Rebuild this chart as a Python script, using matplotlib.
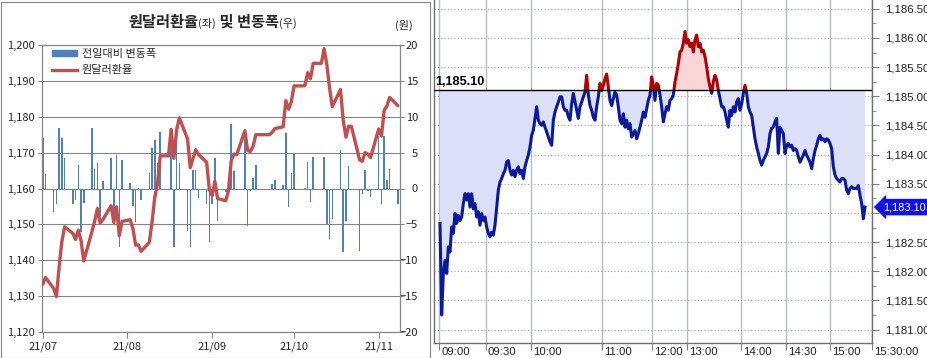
import numpy as np
import pandas as pd
import matplotlib
matplotlib.use('Agg')
import matplotlib.pyplot as plt
from matplotlib.patches import Rectangle
from matplotlib.lines import Line2D
from matplotlib.ticker import FuncFormatter, MultipleLocator

plt.rcParams['font.family'] = ['Noto Sans CJK KR', 'DejaVu Sans']

# ---- left panel: daily USD/KRW close and day-on-day change ----
days = pd.bdate_range('2021-07-01', '2021-11-08')
usdkrw = [
    1133.3, 1135.2, 1132.1, 1129.9, 1138.4, 1145.3, 1149.3, 1147.5, 1145.8, 1148.4, 1145.5,
    1139.8, 1148.0, 1150.9, 1154.4, 1150.4, 1151.3, 1155.2, 1150.6, 1154.9, 1146.9, 1150.8,
    1151.3, 1148.8, 1144.2, 1144.3, 1142.5, 1145.0, 1150.6, 1157.6, 1161.2, 1169.1, 1169.1,
    1176.5, 1168.4, 1176.3, 1179.7, 1173.8, 1165.8, 1168.4, 1170.8, 1169.5, 1167.3, 1159.6,
    1158.0, 1162.0, 1157.2, 1156.6, 1159.5, 1167.8, 1169.6, 1169.4, 1176.1, 1170.6, 1170.3,
    1171.8, 1175.0, 1175.0, 1175.0, 1175.0, 1175.7, 1176.7, 1177.2, 1184.5, 1182.1, 1184.2,
    1188.6, 1188.6, 1188.7, 1192.3, 1190.6, 1194.9, 1194.9, 1199.0, 1194.5, 1188.0, 1182.8,
    1187.6, 1179.0, 1174.3, 1177.4, 1177.3, 1168.0, 1167.6, 1170.0, 1169.6, 1168.6,
    1176.6, 1174.6, 1181.8, 1183.0, 1185.4, 1183.1,
]
chg = [
    7.1, 2.0, -3.3, -2.1, 8.5, 7.0, 4.2, -2.1, -1.6, 3.3, -6.0,
    -2.0, 8.4, 2.7, 3.6, -3.8, 1.0, 4.3, -5.0, 4.7, -8.1, 4.0,
    0.7, -2.5, -4.7, 0.1, -1.6, 2.2, 5.6, 6.7, 3.6, 7.9, 0.0,
    8.0, -8.2, 7.8, 3.5, -5.9, -8.1, 2.6, 2.6, -1.3, -2.1, -7.5,
    -2.2, 4.3, -4.5, -0.5, 1.4, 9.0, 2.5, -0.2, 6.9, -5.2, -0.3,
    1.4, 3.3, 0.0, 0.0, 0.0, 0.6, 1.2, 0.5, 7.7, -2.6, 2.2,
    4.8, 0.0, 0.1, 3.7, -1.9, 4.4, 0.0, 4.4, -5.0, -7.0, -4.3,
    5.3, -8.9, -4.5, 3.1, -0.2, -8.7, -0.8, 2.6, -0.3, -1.2,
    7.3, -2.2, 7.3, 1.2, 2.7, -2.1,
]
month_ticks = pd.to_datetime(['2021-07-01', '2021-08-01', '2021-09-01', '2021-10-01', '2021-11-01'])
month_labels = ['21/07', '21/08', '21/09', '21/10', '21/11']

# ---- right panel: intraday ticks (sampled), prev close, last ----
tick_rate = [
    1182.82, 1181.25, 1181.96, 1182.19, 1181.96, 1182.42, 1182.33, 1182.76, 1182.65, 1182.99,
    1182.82, 1182.96, 1182.87, 1182.93, 1183.16, 1183.33, 1183.22, 1183.33, 1183.10, 1183.33,
    1183.07, 1183.16, 1182.93, 1183.02, 1182.79, 1182.99, 1182.87, 1182.93, 1182.76, 1182.65,
    1182.59, 1182.67, 1182.62, 1182.79, 1183.10, 1183.39, 1183.53, 1183.59, 1183.67, 1183.73,
    1183.87, 1183.90, 1183.73, 1183.65, 1183.73, 1183.62, 1183.73, 1183.79, 1183.67, 1183.73,
    1183.59, 1183.79, 1183.90, 1183.99, 1184.13, 1184.33, 1184.42, 1184.62, 1184.82, 1184.59,
    1184.53, 1184.50, 1184.56, 1184.47, 1184.39, 1184.30, 1184.22, 1184.16, 1184.59, 1184.73,
    1184.82, 1184.90, 1184.99, 1184.99, 1184.82, 1184.76, 1184.76, 1184.65, 1184.59, 1184.87,
    1185.05, 1184.90, 1184.76, 1184.62, 1184.82, 1184.90, 1184.99, 1185.07,
    1185.36, 1185.02, 1184.84, 1184.76, 1184.64, 1184.59, 1184.82, 1184.99, 1185.22, 1185.10,
    1185.19, 1185.30, 1185.38, 1185.16, 1184.93, 1184.84, 1184.96, 1185.07, 1185.02, 1184.82,
    1184.59, 1184.53, 1184.70, 1184.47, 1184.59, 1184.44, 1184.53, 1184.30, 1184.36, 1184.41,
    1184.27, 1184.36, 1184.47, 1184.59, 1184.73, 1184.64, 1184.79, 1184.93, 1185.02, 1185.33,
    1185.19, 1184.93, 1185.22, 1185.19, 1185.02, 1184.82, 1184.56, 1184.70, 1184.82, 1184.76,
    1184.93, 1184.96, 1185.02, 1185.25, 1185.39, 1185.56, 1185.76, 1185.79, 1185.91, 1186.11,
    1185.91, 1185.97, 1185.85, 1185.91, 1185.76, 1185.97, 1186.05, 1185.85, 1185.91, 1185.76,
    1185.79, 1185.68, 1185.51, 1185.30, 1185.16, 1185.05, 1185.25, 1185.36, 1185.28, 1185.10,
    1184.96, 1184.82, 1184.82, 1184.73, 1184.59, 1184.47,
    1184.76, 1184.67, 1184.82, 1184.73, 1184.90, 1184.96, 1184.76, 1184.87, 1185.05, 1185.19,
    1185.05, 1184.82, 1184.73, 1184.67, 1184.47, 1184.27, 1184.13, 1184.02, 1183.90, 1183.82,
    1183.90, 1183.96, 1184.02, 1184.13, 1184.36, 1184.45, 1184.47, 1184.56, 1184.62, 1184.02,
    1184.47, 1184.42, 1184.36, 1184.02, 1184.16, 1184.19, 1184.13, 1184.16, 1184.07, 1184.10,
    1184.07, 1183.96, 1183.87, 1183.93, 1183.99, 1184.07, 1183.99, 1183.93, 1183.87, 1183.76,
    1183.93, 1184.07, 1184.16, 1184.27, 1184.33, 1184.25, 1184.27, 1184.22, 1184.27, 1184.25,
    1184.19, 1184.10, 1183.79, 1183.65, 1183.59, 1183.56, 1183.53, 1183.59, 1183.59, 1183.56,
    1183.39, 1183.33, 1183.42, 1183.45, 1183.42, 1183.42, 1183.42, 1183.47, 1183.30, 1183.16,
    1182.90, 1183.10,
]
time_labels = ['09:00', '09:30', '10:00', '11:00', '12:00', '13:00', '14:00', '14:30', '15:00', '15:30:00']
time_ticks = [-0.3, 27.4, 54.6, 97.4, 127.0, 148.4, 180.4, 207.4, 234.0, 259.0]
prev_close = 1185.10
last_price = 1183.10

W, H = 928, 358
fig = plt.figure(figsize=(W / 100, H / 100), dpi=100)
GRAY = '#868686'
TXT = '#262626'

# ================= left panel =================
axb = fig.add_axes([42 / W, (H - 332) / H, 358 / W, 287 / H])
axb.bar(days, chg, width=0.55, color='#4f81bd', zorder=2)
axb.set_ylim(-20, 20)
axb.set_xlim(days[0] - pd.Timedelta(hours=7), days[-1] + pd.Timedelta(hours=19))
axb.yaxis.grid(True, color=GRAY, lw=0.8)
axb.set_axisbelow(True)

axl = axb.twinx()
axl.plot(days, usdkrw, color='#c0504d', lw=2.4, solid_joinstyle='round', solid_capstyle='round', zorder=3)
axl.set_ylim(1120, 1200)

axb.yaxis.tick_right()
axl.yaxis.tick_left()
axb.set_yticks(range(-20, 21, 5))
axl.set_yticks(range(1120, 1201, 10))
axl.yaxis.set_major_formatter(FuncFormatter(lambda v, p: f'{v:,.0f}'))
axl.tick_params(axis='y', length=3, color=GRAY, labelsize=8, labelcolor=TXT, pad=2)
axb.tick_params(axis='y', length=3, color=GRAY, labelsize=8, labelcolor=TXT, pad=10)
for lab in axb.get_yticklabels():
    lab.set_ha('right')
axb.set_xticks(month_ticks)
axb.set_xticklabels(month_labels)
axb.tick_params(axis='x', length=4, color=GRAY, labelsize=8, labelcolor=TXT, pad=3)
for a in (axb, axl):
    for s in a.spines.values():
        s.set_color(GRAY)
        s.set_linewidth(0.8)

# legend
axl.add_patch(Rectangle((10 / 358, 0.962), 25 / 358, 0.02, transform=axl.transAxes,
                        color='#4f81bd', clip_on=False))
axl.add_line(Line2D([10 / 358, 35 / 358], [0.912, 0.912], transform=axl.transAxes,
                    color='#c0504d', lw=2.4))
axl.text(40 / 358, 0.970, '전일대비 변동폭', transform=axl.transAxes, fontsize=8,
         va='center', color=TXT)
axl.text(40 / 358, 0.914, '원달러환율', transform=axl.transAxes, fontsize=8,
         va='center', color=TXT)

# title pieces
t1 = fig.text(128 / W, 1 - 30 / H, '원달러환율', fontsize=11, weight='bold', color=TXT, va='bottom')
p2 = plt.annotate('(좌)', xy=(1, 0), xycoords=t1, xytext=(0, 1), textcoords='offset points',
                  fontsize=8, color=TXT, va='bottom', annotation_clip=False)
p3 = plt.annotate(' 및 변동폭', xy=(1, 0), xycoords=p2, xytext=(0, -1), textcoords='offset points',
                  fontsize=11, weight='bold', color=TXT, va='bottom', annotation_clip=False)
plt.annotate('(우)', xy=(1, 0), xycoords=p3, xytext=(0, 1), textcoords='offset points',
             fontsize=8, color=TXT, va='bottom', annotation_clip=False)
fig.text(404 / W, 1 - 25 / H, '(원)', fontsize=8, color=TXT, ha='center', va='center')

fig.add_artist(Rectangle((0.5 / W, 0.5 / H), 430 / W, 356 / H, transform=fig.transFigure,
                         fill=False, ec=GRAY, lw=0.8))

# ================= right panel =================
SANS = ['Liberation Sans', 'DejaVu Sans']
axr = fig.add_axes([434 / W, (H - 343) / H, 438 / W, 343 / H])
xs = np.arange(len(tick_rate))
vals = np.array(tick_rate)
axr.set_xlim(-3.6, 259.2)
axr.set_ylim(1180.77, 1186.65)

axr.fill_between(xs, vals, prev_close, where=vals <= prev_close, interpolate=True,
                 color='#dcdff8', lw=0, zorder=1)
axr.fill_between(xs, vals, prev_close, where=vals >= prev_close, interpolate=True,
                 color='#fcd6d6', lw=0, zorder=1)
lb, = axr.plot(xs, vals, color='#0a1a9c', lw=2.2, zorder=3)
lr, = axr.plot(xs, vals, color='#b00000', lw=2.2, zorder=3)
lb.set_clip_path(Rectangle((-10, 1170), 300, prev_close - 1170, transform=axr.transData))
lr.set_clip_path(Rectangle((-10, prev_close), 300, 20, transform=axr.transData))
axr.axhline(prev_close, color='black', lw=1, zorder=4)

axr.set_xticks(time_ticks)
axr.set_xticklabels([])
axr.xaxis.grid(True, color='#b4bcc8', lw=1, zorder=0)
axr.yaxis.set_major_locator(MultipleLocator(0.5))
axr.yaxis.set_minor_locator(MultipleLocator(0.25))
axr.yaxis.grid(True, which='major', color='#a6a6a6', ls=(0, (1, 2)), lw=0.8, zorder=0)
axr.set_axisbelow(True)
axr.yaxis.tick_right()
# the last-price tag hides the label it sits on
axr.yaxis.set_major_formatter(FuncFormatter(
    lambda v, p: '' if abs(v - last_price) < 0.2 else f'{v:,.2f}'))
axr.tick_params(axis='y', which='major', length=5, color='#808080', pad=4.3,
                labelsize=8.2, labelcolor='#202020')
axr.tick_params(axis='y', which='minor', length=3, color='#808080')
axr.tick_params(axis='x', length=5, color='#808080')
for lab in axr.get_yticklabels():
    lab.set_family(SANS)
for t, lab in zip(time_ticks, time_labels):
    axr.annotate(lab, xy=(t, 0), xycoords=('data', 'axes fraction'), xytext=(2, -9),
                 textcoords='offset pixels', ha='left', va='center', fontsize=8.2,
                 family=SANS, color='#202020', annotation_clip=False)
axr.spines['top'].set_visible(False)
for k in ('left', 'right', 'bottom'):
    axr.spines[k].set_color('#707070')
    axr.spines[k].set_linewidth(1)

axr.annotate(f'{prev_close:,.2f}', xy=(0, prev_close), xycoords=('axes fraction', 'data'),
             xytext=(1, 2), textcoords='offset pixels', ha='left', va='bottom',
             fontsize=9.2, weight='bold', family=SANS, color='black')
axr.annotate(f'{last_price:,.2f}', xy=(1, last_price), xycoords=('axes fraction', 'data'),
             xytext=(11, 0), textcoords='offset pixels', ha='left', va='center',
             fontsize=7.8, family=SANS, color='white', annotation_clip=False, zorder=6,
             bbox=dict(boxstyle='larrow,pad=0.3', fc='#1010ee', ec='none'))

fig.savefig('out.png', dpi=100)
